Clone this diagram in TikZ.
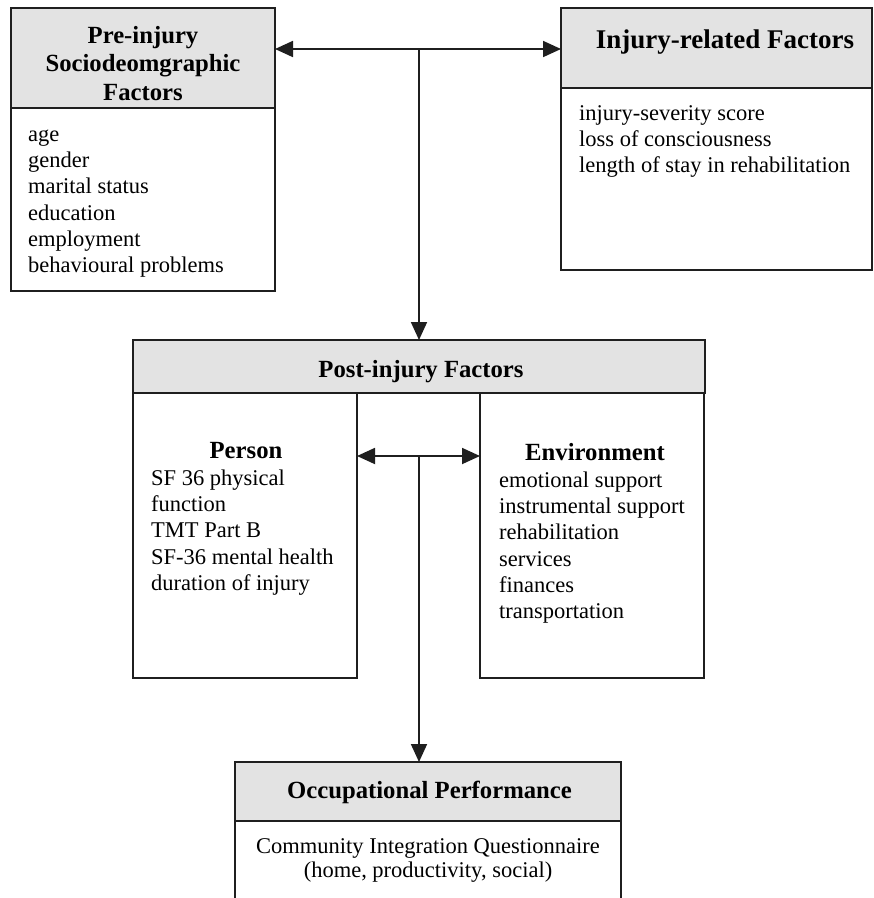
\documentclass[tikz,border=0pt]{standalone}
\usepackage{fontspec}
\setmainfont{Liberation Serif}
\usetikzlibrary{arrows.meta}
\begin{document}
\begin{tikzpicture}[x=1pt,y=-1pt,
  box/.style={draw=black!88, line width=2pt, inner sep=0pt, outer sep=0pt, anchor=north west},
  head/.style={box, fill=black!11},
  htext/.style={font=\fontsize{24.7}{28.5}\selectfont\bfseries, align=center, inner sep=0pt},
  btext/.style={font=\fontsize{22.5}{26.3}\selectfont, align=left, inner sep=0pt, anchor=north west},
  conn/.style={draw=black!88, line width=1.8pt},
  tip/.style={-{Triangle[length=18pt,width=16pt]}},
  tips/.style={{Triangle[length=18pt,width=16pt]}-{Triangle[length=18pt,width=16pt]}}
]
\useasboundingbox (0,0) rectangle (874,898);
\clip (0,0) rectangle (874,898);
\fill[white] (0,0) rectangle (874,898);

% boxes
\node[head, minimum width=264pt, minimum height=100pt] (preH) at (11,8) {};
\node[box, minimum width=264pt, minimum height=183pt] (preB) at (11,108) {};
\node[head, minimum width=311pt, minimum height=80pt] (injH) at (561,8) {};
\node[box, minimum width=311pt, minimum height=182pt] (injB) at (561,88) {};
\node[head, minimum width=572pt, minimum height=53pt] (postH) at (133,340) {};
\node[box, minimum width=224pt, minimum height=285pt] (person) at (133,393) {};
\node[box, minimum width=224pt, minimum height=285pt] (env) at (480,393) {};
\node[head, minimum width=386pt, minimum height=59pt] (occH) at (235,762) {};
\node[box, minimum width=386pt, minimum height=100pt] (occB) at (235,821) {};

% header texts
\node[htext, anchor=north] (preT) at (143,23) {\strut Pre-injury\\Sociodeomgraphic\\Factors};
\node[htext, font=\fontsize{27}{30}\selectfont\bfseries, anchor=base] (injT) at (725,48) {Injury-related Factors};
\node[htext, anchor=base] (postT) at (421,377) {Post-injury Factors};
\node[htext, anchor=base] (occT) at (429.5,798) {Occupational Performance};
\node[htext, anchor=base] (personT) at (246,458) {Person};
\node[htext, anchor=base] (envT) at (595,460) {Environment};

% body texts
\node[btext] (preL) at (28,122.5) {\strut age\\gender\\marital status\\education\\employment\\behavioural problems};
\node[btext] (injL) at (579,101.5) {\strut injury-severity score\\loss of consciousness\\length of stay in rehabilitation};
\node[btext] (personL) at (151,466.5) {\strut SF 36 physical\\function\\TMT Part B\\SF-36 mental health\\duration of injury};
\node[btext] (envL) at (499,468.5) {\strut emotional support\\instrumental support\\rehabilitation\\services\\finances\\transportation};
\node[btext, font=\fontsize{22.5}{24}\selectfont, align=center, anchor=north] (occL) at (428,836) {\strut Community Integration Questionnaire\\(home, productivity, social)};

% connectors
\coordinate (j) at (419,49);
\coordinate (m) at (419,456);
\draw[conn, tips] (j -| preH.east) -- (j -| injH.west);
\draw[conn, tip] (j) -- (j |- postH.north);
\draw[conn, tips] (m -| person.east) -- (m -| env.west);
\draw[conn, tip] (m) -- (m |- occH.north);
\end{tikzpicture}
\end{document}
